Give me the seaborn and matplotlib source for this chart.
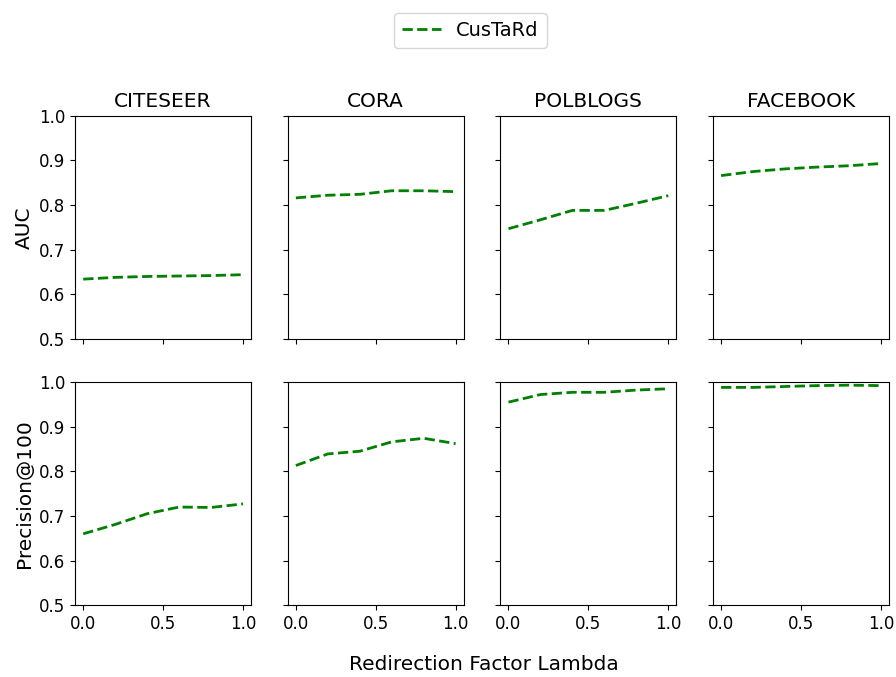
import matplotlib
matplotlib.use("Agg")
import matplotlib.pyplot as plt
import seaborn as sns
import pandas as pd

lambdas = [0.0, 0.2, 0.4, 0.6, 0.8, 1.0]
datasets = ["CITESEER", "CORA", "POLBLOGS", "FACEBOOK"]
metrics = ["AUC", "Precision@100"]

auc_citeseer = [0.634, 0.638, 0.640, 0.641, 0.642, 0.644]
auc_cora = [0.816, 0.822, 0.824, 0.832, 0.832, 0.830]
auc_polblogs = [0.747, 0.767, 0.788, 0.788, 0.804, 0.821]
auc_facebook = [0.866, 0.875, 0.881, 0.885, 0.888, 0.893]

p100_citeseer = [0.660, 0.681, 0.705, 0.720, 0.719, 0.727]
p100_cora = [0.813, 0.839, 0.845, 0.866, 0.874, 0.862]
p100_polblogs = [0.955, 0.972, 0.977, 0.977, 0.982, 0.985]
p100_facebook = [0.988, 0.988, 0.990, 0.992, 0.993, 0.992]

values = {
    ("AUC", "CITESEER"): auc_citeseer,
    ("AUC", "CORA"): auc_cora,
    ("AUC", "POLBLOGS"): auc_polblogs,
    ("AUC", "FACEBOOK"): auc_facebook,
    ("Precision@100", "CITESEER"): p100_citeseer,
    ("Precision@100", "CORA"): p100_cora,
    ("Precision@100", "POLBLOGS"): p100_polblogs,
    ("Precision@100", "FACEBOOK"): p100_facebook,
}

rows = []
for (m, d), v in values.items():
    for lam, val in zip(lambdas, v):
        rows.append({"metric": m, "dataset": d, "lambda": lam, "value": val, "method": "CusTaRd"})
df = pd.DataFrame(rows)

plt.rcParams['font.family'] = ['DejaVu Sans']

fig, axes = plt.subplots(2, 4, figsize=(8.96, 6.77), dpi=100, sharex=True, sharey=True)
fig.subplots_adjust(left=0.084, right=0.992, top=0.829, bottom=0.106, wspace=0.21, hspace=0.193)

for i, m in enumerate(metrics):
    for j, d in enumerate(datasets):
        ax = axes[i, j]
        sub = df[(df.metric == m) & (df.dataset == d)]
        sns.lineplot(data=sub, x="lambda", y="value", ax=ax, color="green",
                     linestyle="--", linewidth=2, label="CusTaRd" if (i == 0 and j == 0) else None,
                     legend=False)
        ax.set_ylim(0.5, 1.0)
        ax.set_yticks([0.5, 0.6, 0.7, 0.8, 0.9, 1.0])
        ax.set_xticks([0.0, 0.5, 1.0])
        ax.set_xlabel("")
        ax.set_ylabel("")
        ax.tick_params(labelsize=12)
        if i == 0:
            ax.set_title(d, fontsize=14.5)
    axes[i, 0].set_ylabel(m, fontsize=14.5)

handles, labels = axes[0, 0].get_legend_handles_labels()
fig.legend(handles, labels, loc="upper center", bbox_to_anchor=(0.525, 0.995), fontsize=14, frameon=True)
fig.supxlabel("Redirection Factor Lambda", fontsize=14.5, y=0.005, x=0.54)

fig.savefig("out.png", dpi=100)
